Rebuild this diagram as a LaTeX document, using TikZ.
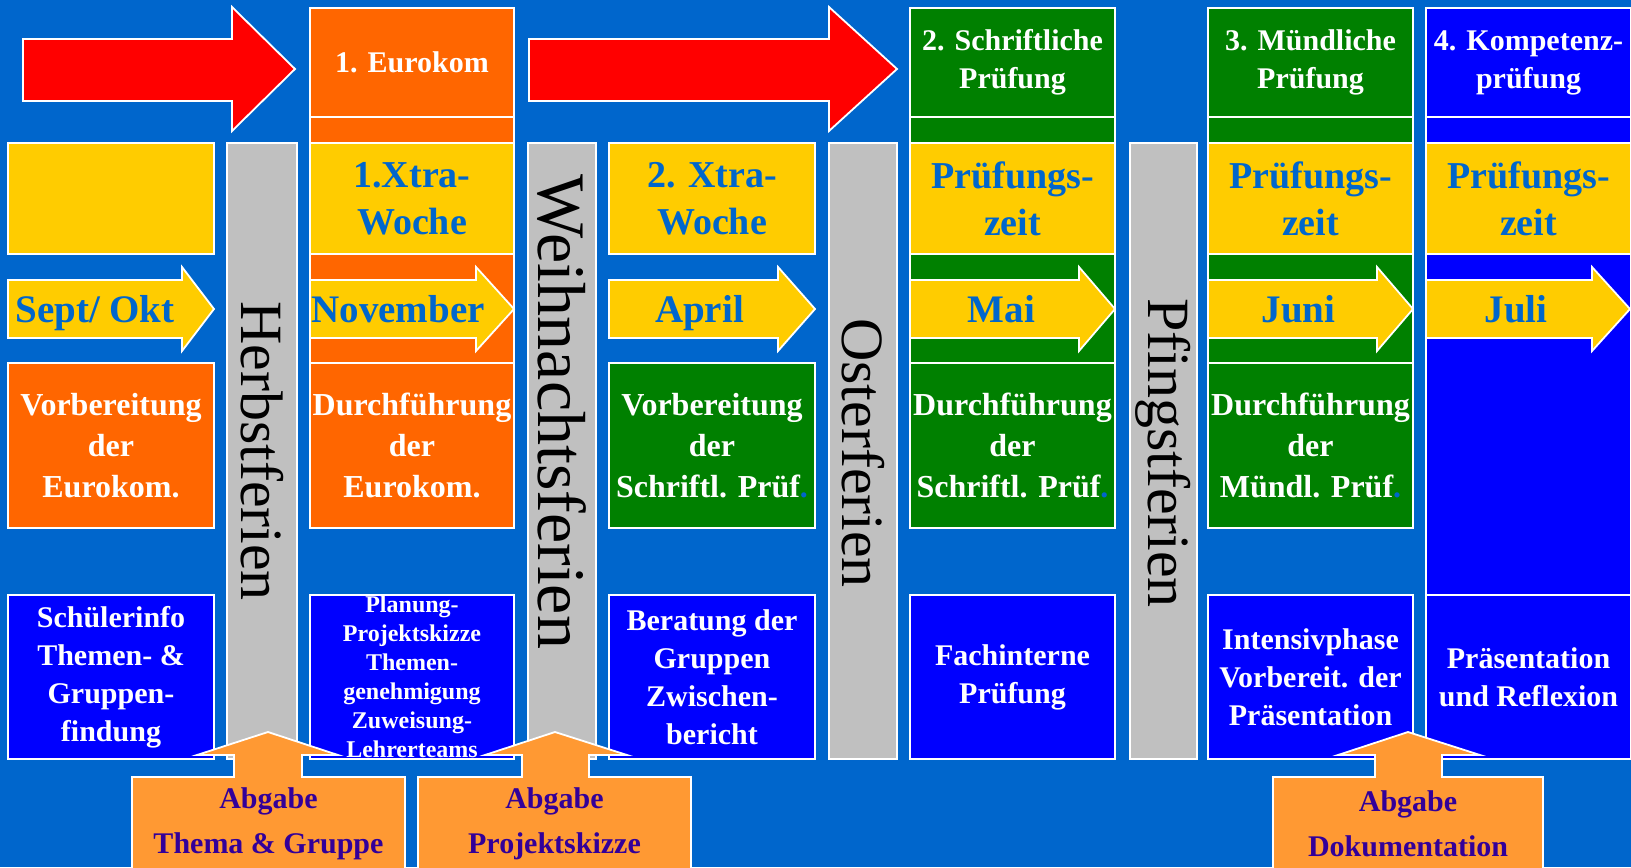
\documentclass[tikz,border=0pt]{standalone}
\usepackage{fontspec}
\setmainfont{Liberation Serif}
\definecolor{bg}{HTML}{0066CC}
\definecolor{rd}{HTML}{FF0000}
\definecolor{og}{HTML}{FF6600}
\definecolor{yl}{HTML}{FFCC00}
\definecolor{gn}{HTML}{008000}
\definecolor{bl}{HTML}{0000FF}
\definecolor{gy}{HTML}{C0C0C0}
\definecolor{co}{HTML}{FF9933}
\definecolor{ct}{HTML}{330099}
\newcommand{\rbox}[7]{\node[box,#2,minimum width={(#5-#3)*0.5pt},minimum height={(#6-#4)*0.5pt}] (#1) at ({(#3+#5)/2},{(#4+#6)/2}) {#7};}
\newcommand{\marrow}[6]{%
  \draw[outl,fill=yl] (#2,280) -- (#3,280) -- (#3,267) -- (#4,309) -- (#3,351) -- (#3,338) -- (#2,338) -- cycle;
  \node[mtext] (#1) at ({(#2+#3)/2+#5},322) {#6};}
\newcommand{\callout}[9]{%
  \draw[outl,fill=co] (#2,875) -- (#2,777) -- (#4,777) -- (#4,755) -- (#6,755) -- (#8,732) -- (#7,755) -- (#5,755) -- (#5,777) -- (#3,777) -- (#3,875);
  \node[ctext] (#1) at ({(#2+#3)/2},824) {#9};}
\begin{document}
\begin{tikzpicture}[x=0.5pt,y=-0.5pt,
  outl/.style={draw=white,line width=0.9pt,line join=miter},
  box/.style={outl,inner sep=0pt,align=center,text=white,font={\fontsize{15}{19}\selectfont\bfseries}},
  ybox/.style={fill=yl,text=bg,font={\fontsize{19}{23.5}\selectfont\bfseries}},
  mid/.style={font={\fontsize{16}{20.5}\selectfont\bfseries}},
  mtext/.style={text=bg,anchor=base,font={\fontsize{19.5}{19.5}\selectfont\bfseries},inner sep=0pt},
  ctext/.style={text=ct,align=center,font={\fontsize{15}{22.5}\selectfont\bfseries},inner sep=0pt},
  ferien/.style={rotate=-90,font={\fontsize{30}{30}\selectfont},text=black,inner sep=0pt}]
\useasboundingbox (0,0) rectangle (1631,867);
\fill[bg] (0,0) rectangle (1631,867);
% red arrows
\draw[outl,fill=rd] (23,39) -- (232,39) -- (232,7) -- (295,69) -- (232,131) -- (232,101) -- (23,101) -- cycle;
\draw[outl,fill=rd] (529,39) -- (829,39) -- (829,7) -- (897,69) -- (829,131) -- (829,101) -- (529,101) -- cycle;
% column A
\rbox{ayel}{ybox}{8}{143}{214}{254}{}
\rbox{amid}{fill=og,mid}{8}{363}{214}{528}{Vorbereitung\\der\\Eurokom.}
\rbox{abot}{fill=bl}{8}{595}{214}{759}{Schülerinfo\\Themen- \&\\Gruppen-\\findung}
% column B
\rbox{btop}{fill=og}{310}{8}{514}{117}{1. Eurokom}
\rbox{bstr}{fill=og}{310}{117}{514}{143}{}
\rbox{byel}{ybox}{310}{143}{514}{254}{1.Xtra-\\Woche}
\rbox{bband}{fill=og}{310}{254}{514}{363}{}
\rbox{bmid}{fill=og,mid}{310}{363}{514}{528}{Durchführung\\der\\Eurokom.}
\rbox{bbot}{fill=bl,font={\fontsize{12}{14.5}\selectfont\bfseries}}{310}{595}{514}{759}{Planung-\\Projektskizze\\Themen-\\genehmigung\\Zuweisung-\\Lehrerteams}
% column C
\rbox{cyel}{ybox}{609}{143}{815}{254}{2. Xtra-\\Woche}
\rbox{cmid}{fill=gn,mid}{609}{363}{815}{528}{Vorbereitung\\der\\Schriftl. Prüf\textcolor{bg}{.}}
\rbox{cbot}{fill=bl}{609}{595}{815}{759}{Beratung der\\Gruppen\\Zwischen-\\bericht}
% column D
\rbox{dtop}{fill=gn}{910}{8}{1115}{117}{2. Schriftliche\\Prüfung}
\rbox{dstr}{fill=gn}{910}{117}{1115}{143}{}
\rbox{dyel}{ybox}{910}{143}{1115}{254}{Prüfungs-\\zeit}
\rbox{dband}{fill=gn}{910}{254}{1115}{363}{}
\rbox{dmid}{fill=gn,mid}{910}{363}{1115}{528}{Durchführung\\der\\Schriftl. Prüf\textcolor{bg}{.}}
\rbox{dbot}{fill=bl}{910}{595}{1115}{759}{Fachinterne\\Prüfung}
% column E
\rbox{etop}{fill=gn}{1208}{8}{1413}{117}{3. Mündliche\\Prüfung}
\rbox{estr}{fill=gn}{1208}{117}{1413}{143}{}
\rbox{eyel}{ybox}{1208}{143}{1413}{254}{Prüfungs-\\zeit}
\rbox{eband}{fill=gn}{1208}{254}{1413}{363}{}
\rbox{emid}{fill=gn,mid}{1208}{363}{1413}{528}{Durchführung\\der\\Mündl. Prüf\textcolor{bg}{.}}
\rbox{ebot}{fill=bl}{1208}{595}{1413}{759}{Intensivphase\\Vorbereit. der\\Präsentation}
% column F
\rbox{ftop}{fill=bl}{1426}{8}{1631}{117}{4. Kompetenz-\\prüfung}
\rbox{fstr}{fill=bl}{1426}{117}{1631}{143}{}
\rbox{fyel}{ybox}{1426}{143}{1631}{254}{Prüfungs-\\zeit}
\rbox{fband}{fill=bl}{1426}{254}{1631}{595}{}
\rbox{fbot}{fill=bl}{1426}{595}{1631}{759}{Präsentation\\und Reflexion}
% holidays
\rbox{g1}{fill=gy}{227}{143}{297}{759}{}
\rbox{g2}{fill=gy}{528}{143}{596}{759}{}
\rbox{g3}{fill=gy}{829}{143}{897}{759}{}
\rbox{g4}{fill=gy}{1130}{143}{1197}{759}{}
\node[ferien] (t1) at (262,451) {Herbstferien};
\node[ferien,font={\fontsize{34}{34}\selectfont}] (t2) at (562,412) {Weihnachtsferien};
\node[ferien] (t3) at (863,453) {Osterferien};
\node[ferien] (t4) at (1163,453) {Pfingstferien};
% month arrows
\marrow{m1}{8}{182}{214}{0}{Sept/ Okt}
\marrow{m2}{310}{476}{514}{5}{November}
\marrow{m3}{609}{778}{815}{6}{April}
\marrow{m4}{910}{1079}{1115}{7}{Mai}
\marrow{m5}{1208}{1377}{1413}{6}{Juni}
\marrow{m6}{1426}{1592}{1630}{7}{Juli}
% callouts
\callout{c1}{132}{405}{234}{302}{197}{338}{268}{Abgabe\\Thema \& Gruppe}
\callout{c2}{418}{691}{522}{589}{485}{627}{555}{Abgabe\\Projektskizze}
\callout{c3}{1273}{1543}{1375}{1442}{1338}{1480}{1408}{Abgabe\\Dokumentation}
\end{tikzpicture}
\end{document}
